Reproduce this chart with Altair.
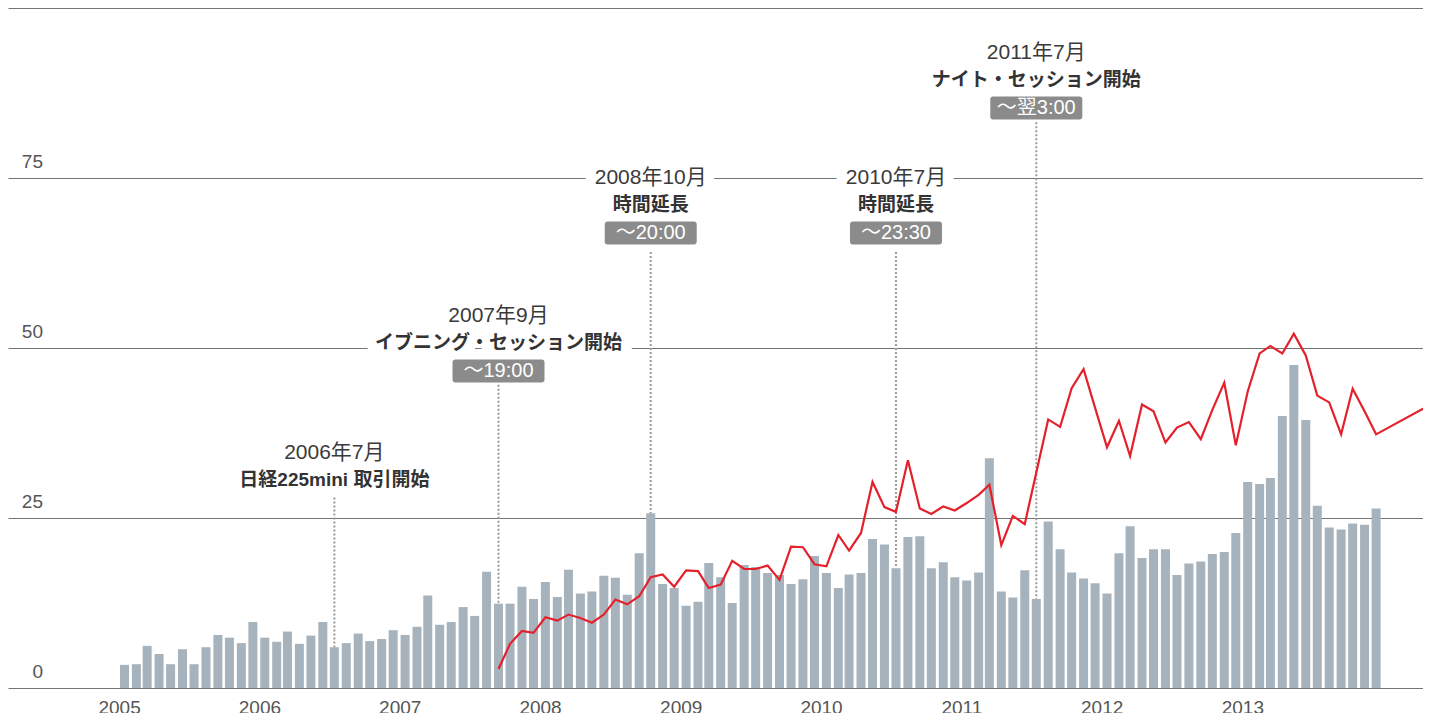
import altair as alt
import pandas as pd

# ---------------- data ----------------
bar_start_year = 2005
bar_values = [
    3.4, 3.5, 6.2, 5.0, 3.5, 5.7, 3.5, 6.0, 7.8, 7.4, 6.6, 9.7,        # 2005
    7.4, 6.8, 8.3, 6.5, 7.7, 9.7, 6.0, 6.6, 8.0, 6.9, 7.2, 8.5,        # 2006
    7.8, 9.0, 13.6, 9.3, 9.7, 11.9, 10.6, 17.1, 12.4, 12.4, 14.9, 13.1,  # 2007
    15.6, 13.4, 17.4, 13.9, 14.2, 16.5, 16.2, 13.7, 19.8, 25.7, 15.3, 14.7,  # 2008
    12.1, 12.7, 18.4, 16.3, 12.5, 18.1, 17.8, 16.9, 16.6, 15.3, 16.0, 19.4,  # 2009
    16.9, 14.7, 16.7, 16.9, 21.9, 21.1, 17.6, 22.2, 22.3, 17.6, 18.5, 16.3,  # 2010
    15.8, 17.0, 33.8, 14.2, 13.3, 17.3, 13.1, 24.5, 20.4, 17.0, 16.1, 15.4,  # 2011
    13.9, 19.8, 23.8, 19.1, 20.4, 20.4, 16.6, 18.3, 18.6, 19.7, 20.0, 22.8,  # 2012
    30.3, 30.0, 30.9, 40.0, 47.5, 39.4, 26.8, 23.6, 23.3, 24.2, 24.0, 26.4,  # 2013
]

line_start = (2007, 9)
line_values = [
    2.8, 6.5, 8.4, 8.1,                                                  # 2007 Sep-Dec
    10.4, 9.9, 10.8, 10.3, 9.6, 10.8, 13.0, 12.3, 13.5, 16.3, 16.7, 14.9,  # 2008
    17.3, 17.2, 14.7, 15.2, 18.7, 17.5, 17.5, 18.0, 15.9, 20.8, 20.7, 18.2,  # 2009
    17.9, 22.5, 20.2, 22.8, 30.3, 26.6, 25.9, 33.5, 26.4, 25.6, 26.7, 26.1,  # 2010
    27.2, 28.4, 29.9, 21.0, 25.3, 24.1, 31.7, 39.5, 38.4, 44.1, 46.9, 41.2,  # 2011
    35.4, 39.3, 34.1, 41.7, 40.7, 36.1, 38.3, 39.1, 36.6, 40.9, 44.9, 35.7,  # 2012
    43.6, 49.2, 50.3, 49.2, 52.1, 48.9, 43.0, 42.0, 37.3, 44.0, 40.7, 37.3,  # 2013
]
line_tail_date = "2014-06-15"
line_tail_value = 42.9

ann_dates = ["2006-07-15", "2007-09-15", "2008-10-15", "2010-07-15", "2011-07-15"]
ann_titles = ["2006年7月", "2007年9月", "2008年10月", "2010年7月", "2011年7月"]
ann_descs = ["日経225mini 取引開始", "イブニング・セッション開始", "時間延長", "時間延長", "ナイト・セッション開始"]
ann_times = ["", "〜19:00", "〜20:00", "〜23:30", "〜翌3:00"]
ann_levels = [34.6, 54.7, 75.0, 75.0, 93.4]
ann_line_tops = [28.0, 44.6, 64.1, 64.1, 83.2]

y_grid = [0, 25, 50, 75, 100]
y_labels = [0, 25, 50, 75]
x_years = list(range(2005, 2014))

# ---------------- tables ----------------
bar_dates = []
for i in range(len(bar_values)):
    y = bar_start_year + i // 12
    m = i % 12 + 1
    bar_dates.append(f"{y}-{m:02d}-15")
bars_df = pd.DataFrame({"date": bar_dates, "value": bar_values})

line_dates = []
y, m = line_start
for _ in line_values:
    line_dates.append(f"{y}-{m:02d}-15")
    m += 1
    if m > 12:
        m = 1
        y += 1
line_df = pd.DataFrame({"date": line_dates + [line_tail_date],
                        "value": line_values + [line_tail_value]})

bar_lookup = dict(zip(bar_dates, bar_values))
ann_df = pd.DataFrame({
    "date": ann_dates,
    "title": ann_titles,
    "desc": ann_descs,
    "time": ann_times,
    "level": ann_levels,
    "top": ann_line_tops,
    "bar": [bar_lookup[d] for d in ann_dates],
})
box_df = ann_df[ann_df["time"] != ""]
ylab_df = pd.DataFrame({"v": y_labels})

# ---------------- encodings ----------------
JP = "Liberation Sans, Noto Sans CJK JP"
NUM = "Liberation Sans"

xscale = alt.Scale(
    type="utc", nice=False, padding=0,
    domain=[alt.DateTime(year=2004, month=3, date=18, utc=True),
            alt.DateTime(year=2014, month=4, date=16, utc=True)],
)
xaxis = alt.Axis(
    values=[alt.DateTime(year=yy, month=1, date=1, utc=True) for yy in x_years],
    format="%Y", formatType="utc", title=None, grid=False, ticks=False, tickSize=0,
    domain=False, labelFontSize=19, labelColor="#555555", labelFont=NUM,
    labelPadding=10, labelFlush=False, labelOverlap=False,
)
yscale = alt.Scale(domain=[0, 100], nice=False, zero=True, padding=0)
yaxis = alt.Axis(values=y_grid, grid=True, gridColor="#747474", gridWidth=1,
                 labels=False, ticks=False, domain=False, title=None)

X = alt.X("date:T", scale=xscale, axis=xaxis)

bars = alt.Chart(bars_df).mark_bar(size=9, color="#a7b3bc").encode(
    x=X, y=alt.Y("value:Q", scale=yscale, axis=yaxis)
)

rules = alt.Chart(ann_df).mark_rule(
    color="#9a9a9a", strokeWidth=2, strokeDash=[2, 2]
).encode(x=X, y=alt.Y("top:Q", scale=yscale, axis=yaxis), y2="bar:Q")

line = alt.Chart(line_df).mark_line(color="#e4202b", strokeWidth=2.2, clip=True).encode(
    x=X, y=alt.Y("value:Q", scale=yscale, axis=yaxis)
)

ylabels = alt.Chart(ylab_df).mark_text(
    align="right", baseline="alphabetic", dy=-10, fontSize=19,
    font=NUM, color="#555555"
).encode(x=alt.value(35), y=alt.Y("v:Q", scale=yscale, axis=yaxis), text="v:Q")

YL = alt.Y("level:Q", scale=yscale, axis=yaxis)

title_halo = alt.Chart(ann_df).mark_text(
    fontSize=21, font=JP, baseline="middle", color="white",
    stroke="white", strokeWidth=22, strokeJoin="round"
).encode(x=X, y=YL, text="title:N")
desc_halo = alt.Chart(ann_df).mark_text(
    fontSize=19, font=JP, fontWeight="bold", baseline="middle", dy=27,
    color="white", stroke="white", strokeWidth=22, strokeJoin="round"
).encode(x=X, y=YL, text="desc:N")

title_txt = alt.Chart(ann_df).mark_text(
    fontSize=21, font=JP, baseline="middle", color="#3a3a3a"
).encode(x=X, y=YL, text="title:N")
desc_txt = alt.Chart(ann_df).mark_text(
    fontSize=19, font=JP, fontWeight="bold", baseline="middle", dy=27, color="#333333"
).encode(x=X, y=YL, text="desc:N")

box_path = ("M-0.935,-0.25 L0.935,-0.25 Q1,-0.25 1,-0.185 L1,0.185 Q1,0.25 0.935,0.25 "
            "L-0.935,0.25 Q-1,0.25 -1,0.185 L-1,-0.185 Q-1,-0.25 -0.935,-0.25 Z")
boxes = alt.Chart(box_df).mark_point(
    shape=box_path, size=92 * 92, filled=True, color="#8b8b8b", opacity=1,
    strokeWidth=0, yOffset=55
).encode(x=X, y=YL)
box_txt = alt.Chart(box_df).mark_text(
    fontSize=20, font=JP, baseline="middle", dy=55, color="white"
).encode(x=X, y=YL, text="time:N")

chart = alt.layer(
    bars, rules, line, ylabels, title_halo, desc_halo, title_txt, desc_txt, boxes, box_txt
).properties(
    width=1415, height=680,
    padding={"left": 0, "top": 0, "right": 0, "bottom": 26},
    autosize=alt.AutoSizeParams(type="none"),
).configure_view(stroke=None)

chart.save("out.html", embed_options={"renderer": "svg", "actions": False})
